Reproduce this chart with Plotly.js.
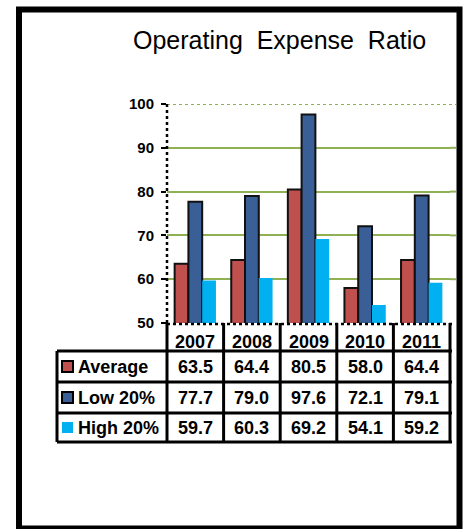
<!DOCTYPE html>
<html>
<head>
<meta charset="utf-8">
<script src="https://cdn.plot.ly/plotly-3.0.1.min.js"></script>
<style>html,body{margin:0;padding:0;background:#fff;}#chart{width:464px;height:529px;}</style>
</head>
<body>
<div id="chart"></div>
<script>
const years = ['2007', '2008', '2009', '2010', '2011'];
const seriesNames = ['Average', 'Low 20%', 'High 20%'];
const average = [63.5, 64.4, 80.5, 58.0, 64.4];
const low20 = [77.7, 79.0, 97.6, 72.1, 79.1];
const high20 = [59.7, 60.3, 69.2, 54.1, 59.2];
const titleText = 'Operating\u00a0\u00a0Expense\u00a0\u00a0Ratio';

const seriesValues = [average, low20, high20];
const colors = ['#C0504D', '#3A5F96', '#00B0F0'];
const outline = [2, 2, 0];

// pixel geometry of the plot area
const L = 167, R = 450, T = 104, B = 323;
const W = R - L, H = B - T;
const px = x => (x - L) / W;
const py = y => 1 - (y - T) / H;

const FONT = 'Liberation Sans, Arial, sans-serif';

const traces = seriesValues.map((vals, i) => ({
  type: 'bar',
  name: seriesNames[i],
  x: years,
  y: vals,
  marker: {color: colors[i], line: {color: '#111', width: outline[i]}},
  hoverinfo: 'none'
}));

const shapes = [];
const annotations = [];
const line = (x0, y0, x1, y1, w, dash, color) => shapes.push({
  type: 'line', xref: 'paper', yref: 'paper',
  x0: px(x0), y0: py(y0), x1: px(x1), y1: py(y1),
  line: {color: color || '#000', width: w, dash: dash || 'solid'}
});

// top gridline (dotted green) at 100
shapes.push({type: 'line', xref: 'paper', yref: 'y', x0: 0, x1: px(456), y0: 100, y1: 100,
  line: {color: '#8FB153', width: 2, dash: 'dot'}});
// extend other gridlines to the frame edge
[60, 70, 80, 90].forEach(v => shapes.push({type: 'line', xref: 'paper', yref: 'y',
  x0: 1, x1: px(456), y0: v, y1: v, line: {color: '#8FB153', width: 2}}));

// outer frame
shapes.push({type: 'rect', xref: 'paper', yref: 'paper',
  x0: px(19), x1: px(459.5), y0: py(9.5), y1: py(528.5),
  line: {color: '#000', width: 6}});

// axis lines (dotted look)
line(L, T, L, B + 1, 2.5, 'dot');
line(L, B + 1, R + 4, B + 1, 2.5, 'dot');

// table grid
const rowLines = [351, 382, 413, 442];
const tableLeft = 57;
rowLines.forEach(y => line(tableLeft, y, R + 2, y, 3));
line(tableLeft, 351, tableLeft, 442, 3);
for (let i = 0; i <= years.length; i++) {
  const x = L + i * W / years.length;
  line(x, B, x, 442, 3);
}

// year header labels (category index positions)
years.forEach((yr, c) => annotations.push({
  x: c, xref: 'x', y: py(342), yref: 'paper', text: '<b>' + yr + '</b>',
  showarrow: false, xanchor: 'center', yanchor: 'middle',
  font: {family: FONT, size: 18, color: '#000'}
}));

// table rows
const rowCenters = [366.5, 397.5, 427.5];
seriesNames.forEach((name, r) => {
  const yc = rowCenters[r];
  shapes.push({type: 'rect', xref: 'paper', yref: 'paper',
    x0: px(62), x1: px(73), y0: py(yc - 5.5), y1: py(yc + 5.5),
    fillcolor: colors[r], line: {color: '#000', width: outline[r] > 0 ? 2 : 0}});
  annotations.push({
    x: px(76), xref: 'paper', y: py(yc), yref: 'paper', text: '<b>' + name + '</b>',
    showarrow: false, xanchor: 'left', yanchor: 'middle',
    font: {family: FONT, size: 18, color: '#000'}
  });
  seriesValues[r].forEach((v, c) => annotations.push({
    x: c, xref: 'x', y: py(yc), yref: 'paper', text: '<b>' + v.toFixed(1) + '</b>',
    showarrow: false, xanchor: 'center', yanchor: 'middle',
    font: {family: FONT, size: 18, color: '#000'}
  }));
});

// title
annotations.push({
  x: px(279), xref: 'paper', y: py(40), yref: 'paper', text: titleText,
  showarrow: false, xanchor: 'center', yanchor: 'middle',
  font: {family: FONT, size: 25, color: '#000'}
});

const layout = {
  width: 464, height: 529,
  margin: {l: L, r: 464 - R, t: T, b: 529 - B, pad: 0},
  paper_bgcolor: '#fff', plot_bgcolor: '#fff',
  showlegend: false,
  barmode: 'group', bargap: 0.27, bargroupgap: 0,
  xaxis: {type: 'category', range: [-0.5, years.length - 0.5], autorange: false,
    showticklabels: false, ticks: '', showgrid: false,
    zeroline: false, showline: false, fixedrange: true},
  yaxis: {range: [50, 100], autorange: false, dtick: 10, tick0: 50, showgrid: true, gridcolor: '#8FB153', gridwidth: 2,
    zeroline: false, showline: false, ticks: 'outside', ticklen: 5, tickwidth: 2, tickcolor: '#000',
    ticklabelstandoff: 4,
    tickfont: {family: FONT, size: 15, color: '#000', weight: 'bold'}, fixedrange: true},
  shapes: shapes,
  annotations: annotations
};

Plotly.newPlot('chart', traces, layout, {displayModeBar: false, staticPlot: true});
</script>
</body>
</html>
